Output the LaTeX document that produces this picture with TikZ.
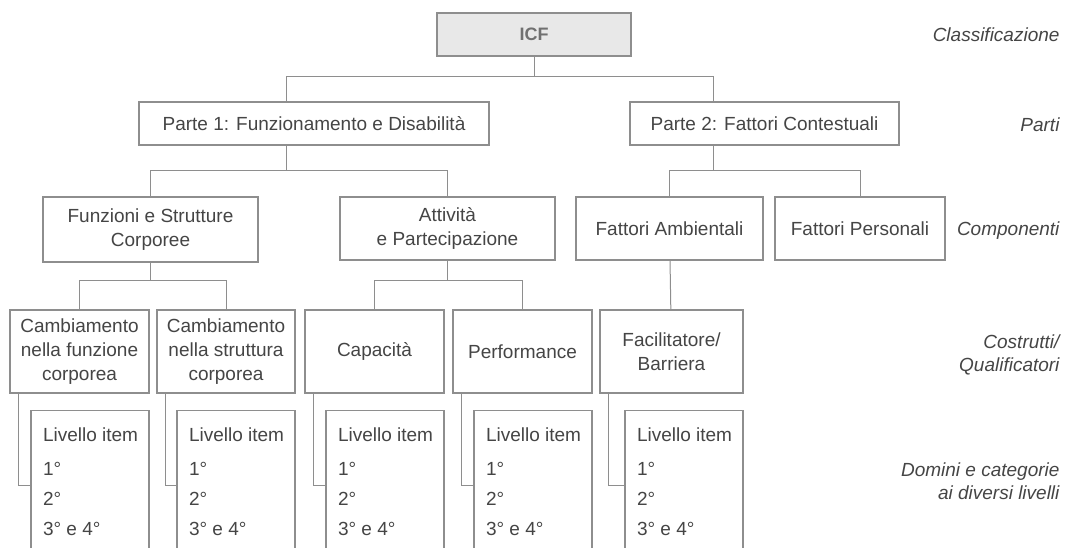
\documentclass[tikz,border=0pt]{standalone}
\usepackage{fontspec}
\setmainfont{Liberation Sans}
\usepackage{xcolor}
\usepackage{tikz}
\usetikzlibrary{positioning}
\definecolor{icffill}{HTML}{E8E8E8}
\definecolor{icfline}{HTML}{8E8E8E}
\definecolor{icftext}{HTML}{454545}
\definecolor{icftitle}{HTML}{707070}

\newcommand{\itemlevels}{\parbox[c][151pt][t]{118pt}{\fontsize{19}{30}\selectfont
  \raggedright\leftskip=12pt\vspace*{17pt}Livello item\\[4pt]1°\\2°\\3° e 4°}}

\begin{document}
\begin{tikzpicture}[x=1pt, y=-1pt,
    box/.style={rectangle, draw=icfline, line width=1.3pt, fill=white,
                text=icftext, align=center, inner sep=2pt,
                font=\fontsize{19}{24}\selectfont},
    levelbox/.style={rectangle, draw=icfline, line width=1.3pt, fill=white,
                text=icftext, inner sep=0pt},
    tag/.style={anchor=east, align=right, text=icftext,
                font=\fontsize{19}{23}\selectfont\itshape},
    link/.style={draw=icfline, line width=1pt},
]
\useasboundingbox (0,0) rectangle (1073,548);
\clip (0,0) rectangle (1073,548);

% Classificazione e parti
\node[box, fill=icffill, minimum width=194pt, minimum height=43pt,
      text=icftitle, font=\fontsize{18}{22}\selectfont\bfseries] (icf) at (534,34.5) {ICF};
\node[box, minimum width=350pt, minimum height=43pt] (parte1) at (314,123.5) {Parte 1: Funzionamento e Disabilità};
\node[box, minimum width=269pt, minimum height=43pt] (parte2) at (764.5,123.5) {Parte 2: Fattori Contestuali};

% Componenti
\node[box, minimum width=215pt, minimum height=65pt] (funz) at (150.5,229.5) {Funzioni e Strutture\\Corporee};
\node[box, minimum width=215pt, minimum height=63pt] (att) at (447.5,228.5) {Attività\\e Partecipazione};
\node[box, minimum width=187pt, minimum height=63pt] (amb) at (669.5,228.5) {Fattori Ambientali};
\node[box, minimum width=170pt, minimum height=63pt] (pers) at (860,228.5) {Fattori Personali};

% Costrutti / qualificatori
\node[box, minimum width=139pt, minimum height=83pt] (cfunz) at (79.5,351.5) {Cambiamento\\nella funzione\\corporea};
\node[box, minimum width=138pt, minimum height=83pt] (cstrut) at (226,351.5) {Cambiamento\\nella struttura\\corporea};
\node[box, minimum width=139pt, minimum height=83pt] (cap) at (374.5,351.5) {Capacità};
\node[box, minimum width=139pt, minimum height=83pt] (perf) at (522.5,351.5) {Performance};
\node[box, minimum width=143pt, minimum height=83pt] (fac) at (671.5,351.5) {Facilitatore/\\Barriera};

% Livelli
\node[levelbox, below left=16pt and 0pt of cfunz.south east] (liv1) {\itemlevels};
\node[levelbox, below left=16pt and 0pt of cstrut.south east] (liv2) {\itemlevels};
\node[levelbox, below left=16pt and 0pt of cap.south east] (liv3) {\itemlevels};
\node[levelbox, below left=16pt and 0pt of perf.south east] (liv4) {\itemlevels};
\node[levelbox, below left=16pt and 0pt of fac.south east] (liv5) {\itemlevels};

% Etichette a destra
\node[tag] (tclass) at (1063,35) {Classificazione};
\node[tag] (tparti) at (1063,125) {Parti};
\node[tag] (tcomp) at (1063,231) {Componenti};
\node[tag] (tcostr) at (1063,355) {Costrutti/\\Qualificatori};
\node[tag] (tdom) at (1063,481) {Domini e categorie\\ai diversi livelli};

% Connettori
\draw[link] (icf.south) -- ++(0,20) coordinate (b0);
\draw[link] ([xshift=-28pt]parte1.north) |- (b0) -| ([xshift=-51.5pt]parte2.north);
\draw[link] ([xshift=-28pt]parte1.south) -- ++(0,25) coordinate (b1);
\draw[link] (funz.north) |- (b1) -| (att.north);
\draw[link] ([xshift=-51.5pt]parte2.south) -- ++(0,25) coordinate (b2);
\draw[link] (amb.north) |- (b2) -| (pers.north);
\draw[link] (funz.south) -- ++(0,18) coordinate (b3);
\draw[link] (cfunz.north) |- (b3) -| (cstrut.north);
\draw[link] (att.south) -- ++(0,20) coordinate (b4);
\draw[link] (cap.north) |- (b4) -| (perf.north);
\draw[link] (amb) -- (fac);

\foreach \a/\b in {cfunz/liv1, cstrut/liv2, cap/liv3, perf/liv4, fac/liv5}
    \draw[link] ([xshift=9.5pt]\a.south west) |- (\b.west);
\end{tikzpicture}
\end{document}
